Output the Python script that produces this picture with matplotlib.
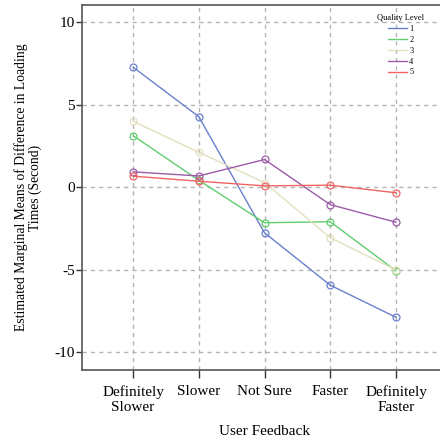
import matplotlib
matplotlib.use("Agg")
import matplotlib.pyplot as plt

plt.rcParams["font.family"] = ["Liberation Serif", "DejaVu Serif"]

# Data
feedback = ["Definitely\nSlower", "Slower", "Not Sure", "Faster", "Definitely\nFaster"]
levels = ["1", "2", "3", "4", "5"]
q1 = [7.29, 4.28, -2.77, -5.95, -7.90]
q2 = [3.13, 0.42, -2.16, -2.10, -5.08]
q3 = [4.00, 2.12, 0.28, -3.07, -5.02]
q4 = [0.93, 0.68, 1.68, -1.06, -2.13]
q5 = [0.67, 0.36, 0.08, 0.12, -0.34]
colors = ["#6a80cc", "#63cc6f", "#e3dfbf", "#9c5aa8", "#f26464"]

fig = plt.figure(figsize=(4.40, 4.43), dpi=100)
ax = fig.add_axes([82 / 440, 1 - 370 / 443, 365 / 440, 365 / 443])

x = list(range(len(feedback)))
for vals, c, lab in zip([q1, q2, q3, q4, q5], colors, levels):
    ax.plot(x, vals, color=c, linewidth=1.0, marker="o", markersize=5,
            markerfacecolor="none", markeredgecolor=c, markeredgewidth=0.9,
            label=lab)

ax.set_xlim(-0.776, 4.776)
ax.set_ylim(-11.1, 11.06)
ax.set_xticks(x)
ax.set_xticklabels(feedback, fontsize=11, linespacing=1.15)
ax.set_yticks([-10, -5, 0, 5, 10])
ax.set_yticklabels(["-10", "-5", "0", "5", "10"], fontsize=11)
ax.tick_params(axis="both", direction="out", length=4, width=1, color="#333333", pad=1)
ax.tick_params(axis="x", length=6, pad=5)
ax.grid(True, linestyle=(0, (3, 3)), color="#b4b4b4", linewidth=1)
ax.set_axisbelow(True)
for s in ax.spines.values():
    s.set_color("#555555")
    s.set_linewidth(1.2)

ax.set_xlabel("User Feedback", fontsize=11, labelpad=8)
ax.set_ylabel("Estimated Marginal Means of Difference in Loading\nTimes (Second)",
              fontsize=9.8, linespacing=1.05, labelpad=9)

leg = ax.legend(title="Quality Level", loc="upper center", bbox_to_anchor=(401 / 440, 1 - 8 / 443),
                bbox_transform=fig.transFigure, frameon=False, fontsize=6,
                title_fontsize=6, handlelength=2.2, labelspacing=0.35,
                handletextpad=0.3, borderpad=0.2)
for h in leg.get_lines():
    h.set_marker("")

fig.savefig("out.png", dpi=100)
